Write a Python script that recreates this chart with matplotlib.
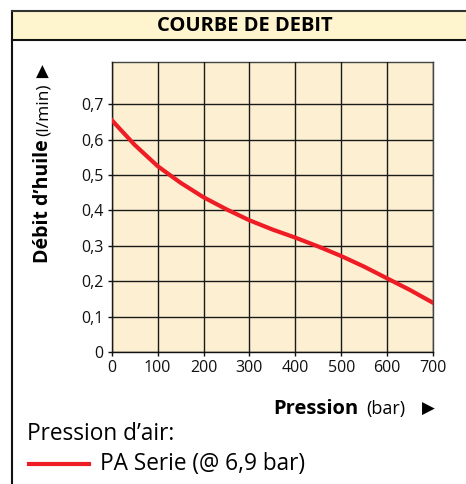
import matplotlib
matplotlib.use('Agg')
import matplotlib.pyplot as plt
from matplotlib.patches import Rectangle
from matplotlib.lines import Line2D
from matplotlib.ticker import FuncFormatter

plt.rcParams['font.family'] = ['Open Sans', 'DejaVu Sans']

# data
pression = [0, 50, 100, 150, 200, 250, 300, 350, 400, 450, 500, 550, 600, 650, 700]
debit = [0.655, 0.585, 0.525, 0.478, 0.437, 0.403, 0.372, 0.346, 0.323, 0.298, 0.271, 0.241, 0.208, 0.175, 0.139]
xticks = [0, 100, 200, 300, 400, 500, 600, 700]
yticks = [0, 0.1, 0.2, 0.3, 0.4, 0.5, 0.6, 0.7]

W, H = 466, 484
fig = plt.figure(figsize=(W / 100, H / 100), dpi=100)


# pixel -> figure fraction helpers
def fx(px):
    return px / W


def fy(py):
    return 1 - py / H


# outer frame and title band
fig.patches.append(Rectangle((fx(12), fy(40)), 1, fy(11) - fy(40), transform=fig.transFigure,
                             facecolor='#fef4cd', edgecolor='none', zorder=0))
fig.lines.append(Line2D([fx(12), fx(12)], [0, fy(11)], transform=fig.transFigure, color='#111111', lw=1.5))
fig.lines.append(Line2D([fx(12), 1], [fy(11), fy(11)], transform=fig.transFigure, color='#333333', lw=1.5))
fig.lines.append(Line2D([fx(12), 1], [fy(40), fy(40)], transform=fig.transFigure, color='#111111', lw=1.5))
fig.text(fx(245), fy(26), 'COURBE DE DEBIT', ha='center', va='center', fontsize=14.5, fontweight='bold')

ax = fig.add_axes([fx(111.7), fy(352), fx(433) - fx(111.7), fy(62) - fy(352)])
ax.set_facecolor('#fdf0d2')
ax.plot(pression, debit, color='#ee1c25', lw=3, solid_joinstyle='round', zorder=3)

ax.set_xlim(0, 700)
ax.set_ylim(0, 0.819)
ax.set_xticks(xticks)
ax.set_yticks(yticks)
ax.yaxis.set_major_formatter(FuncFormatter(lambda v, p: '0' if v == 0 else ('%.1f' % v).replace('.', ',')))
ax.grid(True, color='#1a1a1a', lw=1)
ax.set_axisbelow(False)
ax.tick_params(direction='out', length=3, width=1, labelsize=11.5, colors='#111111', pad=3)
for s in ax.spines.values():
    s.set_color('#444444')
    s.set_linewidth(1)
ax.spines['left'].set_color('#111111')
ax.spines['bottom'].set_color('#111111')

# x axis label with arrow
fig.text(fx(273), fy(409), 'Pression', ha='left', va='center', fontsize=14.5, fontweight='bold')
fig.text(fx(366), fy(409), '(bar)', ha='left', va='center', fontsize=13)
fig.text(fx(422), fy(409), '\u25B6', ha='left', va='center', fontsize=12, family=['DejaVu Sans'])

# y axis label with arrow (reads bottom to top)
fig.text(fx(48), fy(263), 'Débit d\u2019huile', rotation=90, rotation_mode='anchor',
         ha='left', va='baseline', fontsize=14, fontweight='bold')
fig.text(fx(48), fy(136), '(l/min)', rotation=90, rotation_mode='anchor',
         ha='left', va='baseline', fontsize=12.5)
fig.text(fx(42), fy(72), '\u25B2', ha='center', va='center', fontsize=12, family=['DejaVu Sans'])

# legend
fig.text(fx(27), fy(434), 'Pression d\u2019air:', ha='left', va='center', fontsize=16.3)
fig.lines.append(Line2D([fx(29), fx(89)], [fy(464), fy(464)], transform=fig.transFigure,
                        color='#ee1c25', lw=3))
fig.text(fx(100), fy(464), 'PA Serie (@ 6,9 bar)', ha='left', va='center', fontsize=16.3)

fig.savefig('out.png', dpi=100)
